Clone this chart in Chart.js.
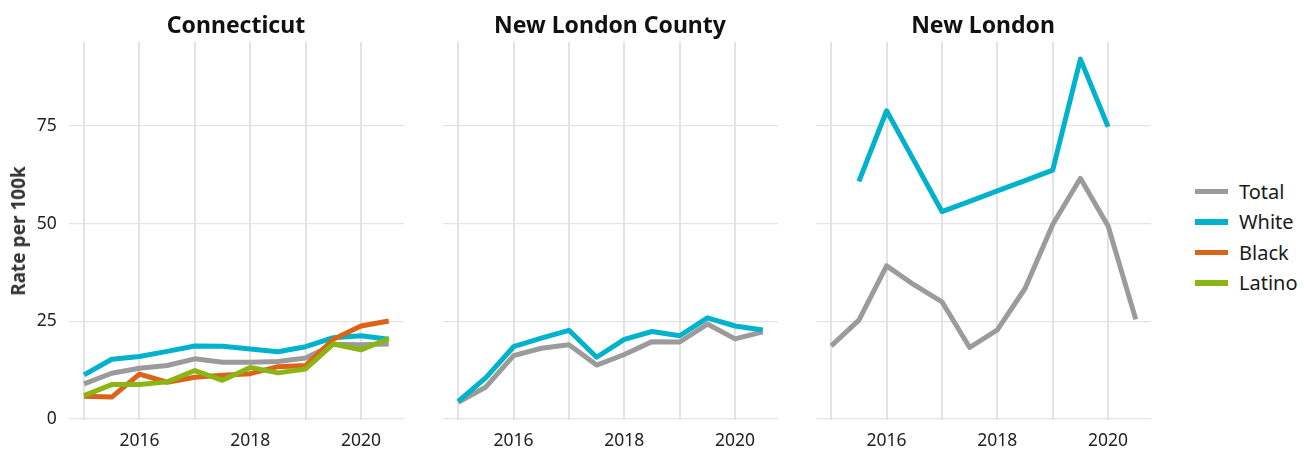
<!DOCTYPE html>
<html>
<head>
<meta charset="utf-8">
<script src="https://cdn.jsdelivr.net/npm/chart.js@4"></script>
<style>
  html, body { margin: 0; padding: 0; background: #fff; }
  #wrap { position: relative; width: 1304px; height: 452px; overflow: hidden; font-family: 'Noto Sans', sans-serif; color: #1a1a1a; }
  canvas { position: absolute; top: 0; }
  .ttl { position: absolute; top: 8px; font-weight: bold; font-size: 23px; line-height: 32px; transform: translateX(-50%); white-space: nowrap; color: #111; }
  #ytitle { position: absolute; left: 17.5px; top: 231px; font-weight: bold; font-size: 19px; color: #333; transform: translate(-50%, -50%) rotate(-90deg); white-space: nowrap; }
  #legend { position: absolute; left: 1195px; top: 176px; }
  .lg { display: flex; align-items: center; height: 30.5px; font-size: 20px; color: #1a1a1a; }
  .lg i { display: inline-block; width: 33px; height: 5.5px; margin-right: 11px; }
</style>
</head>
<body>
<div id="wrap">
  <canvas id="c0"></canvas>
  <canvas id="c1"></canvas>
  <canvas id="c2"></canvas>
  <div class="ttl" style="left:236px">Connecticut</div>
  <div class="ttl" style="left:610px">New London County</div>
  <div class="ttl" style="left:983px">New London</div>
  <div id="ytitle">Rate per 100k</div>
  <div id="legend"></div>
</div>
<script>
// ── Dados ──
const years = [2015, 2015.5, 2016, 2016.5, 2017, 2017.5, 2018, 2018.5, 2019, 2019.5, 2020, 2020.5];
const panels = ['Connecticut', 'New London County', 'New London'];
const groups = ['Total', 'White', 'Black', 'Latino'];
const colors = ['#9b9b9b', '#00b2cb', '#da6419', '#8bb515'];

const ctTotal  = [9.0, 11.7, 13.0, 13.7, 15.4, 14.5, 14.5, 14.7, 15.6, 19.1, 19.0, 19.2];
const ctWhite  = [11.3, 15.3, 16.0, 17.3, 18.7, 18.6, 17.9, 17.2, 18.5, 20.8, 21.3, 20.4];
const ctBlack  = [5.8, 5.6, 11.5, 9.4, 10.7, 11.2, 11.6, 13.4, 13.7, 20.4, 23.8, 25.1];
const ctLatino = [6.0, 8.8, 8.8, 9.5, 12.4, 9.9, 13.2, 11.8, 12.8, 19.2, 17.7, 20.6];

const nlcTotal = [4.3, 8.2, 16.2, 18.1, 19.0, 13.8, 16.5, 19.8, 19.7, 24.3, 20.5, 22.3];
const nlcWhite = [4.5, 10.6, 18.5, 20.7, 22.7, 15.8, 20.4, 22.4, 21.3, 25.9, 23.8, 22.8];

const nlTotal  = [18.7, 25.3, 39.2, 34.3, 30.0, 18.3, 22.8, 33.4, 49.8, 61.6, 49.4, 25.5];
const nlWhite  = [null, 60.8, 78.9, 66.0, 53.1, 55.7, 58.4, 61.0, 63.7, 92.1, 74.8, null];

const yTicks = [0, 25, 50, 75];
const xGrid  = [2015, 2016, 2017, 2018, 2019, 2020];
const xLabels = [2016, 2018, 2020];

const seriesByPanel = [
  [ctTotal, ctWhite, ctBlack, ctLatino],
  [nlcTotal, nlcWhite, null, null],
  [nlTotal, nlWhite, null, null],
];

// ── Layout ──
const plotLeft = [68.8, 442.5, 815.5];
const plotW = 335.2;
const FONT = "'Noto Sans', sans-serif";

function buildPanel(i) {
  const canvas = document.getElementById('c' + i);
  const padL = i === 0 ? plotLeft[0] : 20;
  const padR = 12;
  const left = plotLeft[i] - padL;
  const w = padL + plotW + padR;
  canvas.style.left = left + 'px';
  canvas.width = w; canvas.height = 452;
  canvas.style.width = w + 'px'; canvas.style.height = '452px';

  const datasets = [];
  seriesByPanel[i].forEach((s, g) => {
    if (!s) return;
    datasets.push({
      label: groups[g],
      data: years.map((y, k) => ({ x: y, y: s[k] })),
      borderColor: colors[g], backgroundColor: colors[g],
      borderWidth: 5, pointRadius: 0, tension: 0,
      borderJoinStyle: 'round', spanGaps: false,
      order: groups.length - g
    });
  });

  new Chart(canvas.getContext('2d'), {
    type: 'line',
    data: { datasets },
    options: {
      responsive: false, animation: false, devicePixelRatio: 1,
      layout: { padding: { top: 41.7, right: padR, left: 0, bottom: 0 } },
      plugins: { legend: { display: false }, tooltip: { enabled: false } },
      scales: {
        x: {
          type: 'linear', min: 2014.725, max: 2020.775,
          afterBuildTicks: sc => { sc.ticks = xGrid.map(v => ({ value: v })); },
          afterFit: sc => { sc.height = 452 - 419.5; },
          ticks: {
            autoSkip: false, maxRotation: 0, padding: 11, color: '#222',
            font: { family: FONT, size: 17.5 },
            callback: v => xLabels.includes(v) ? String(v) : ''
          },
          grid: { color: '#e3e3e3', lineWidth: 2, drawTicks: false },
          border: { display: false }
        },
        y: {
          min: -0.13, max: 96.57,
          afterBuildTicks: sc => { sc.ticks = yTicks.map(v => ({ value: v })); },
          afterFit: sc => { sc.width = padL; },
          ticks: {
            display: i === 0, padding: 12, color: '#222',
            font: { family: FONT, size: 17.5 }
          },
          grid: { color: '#e3e3e3', lineWidth: 1.3, drawTicks: false },
          border: { display: false }
        }
      }
    }
  });
}

panels.forEach((p, i) => buildPanel(i));

// ── Legenda ──
document.getElementById('legend').innerHTML = groups.map((g, i) =>
  `<div class="lg"><i style="background:${colors[i]}"></i>${g}</div>`).join('');
</script>
</body>
</html>
